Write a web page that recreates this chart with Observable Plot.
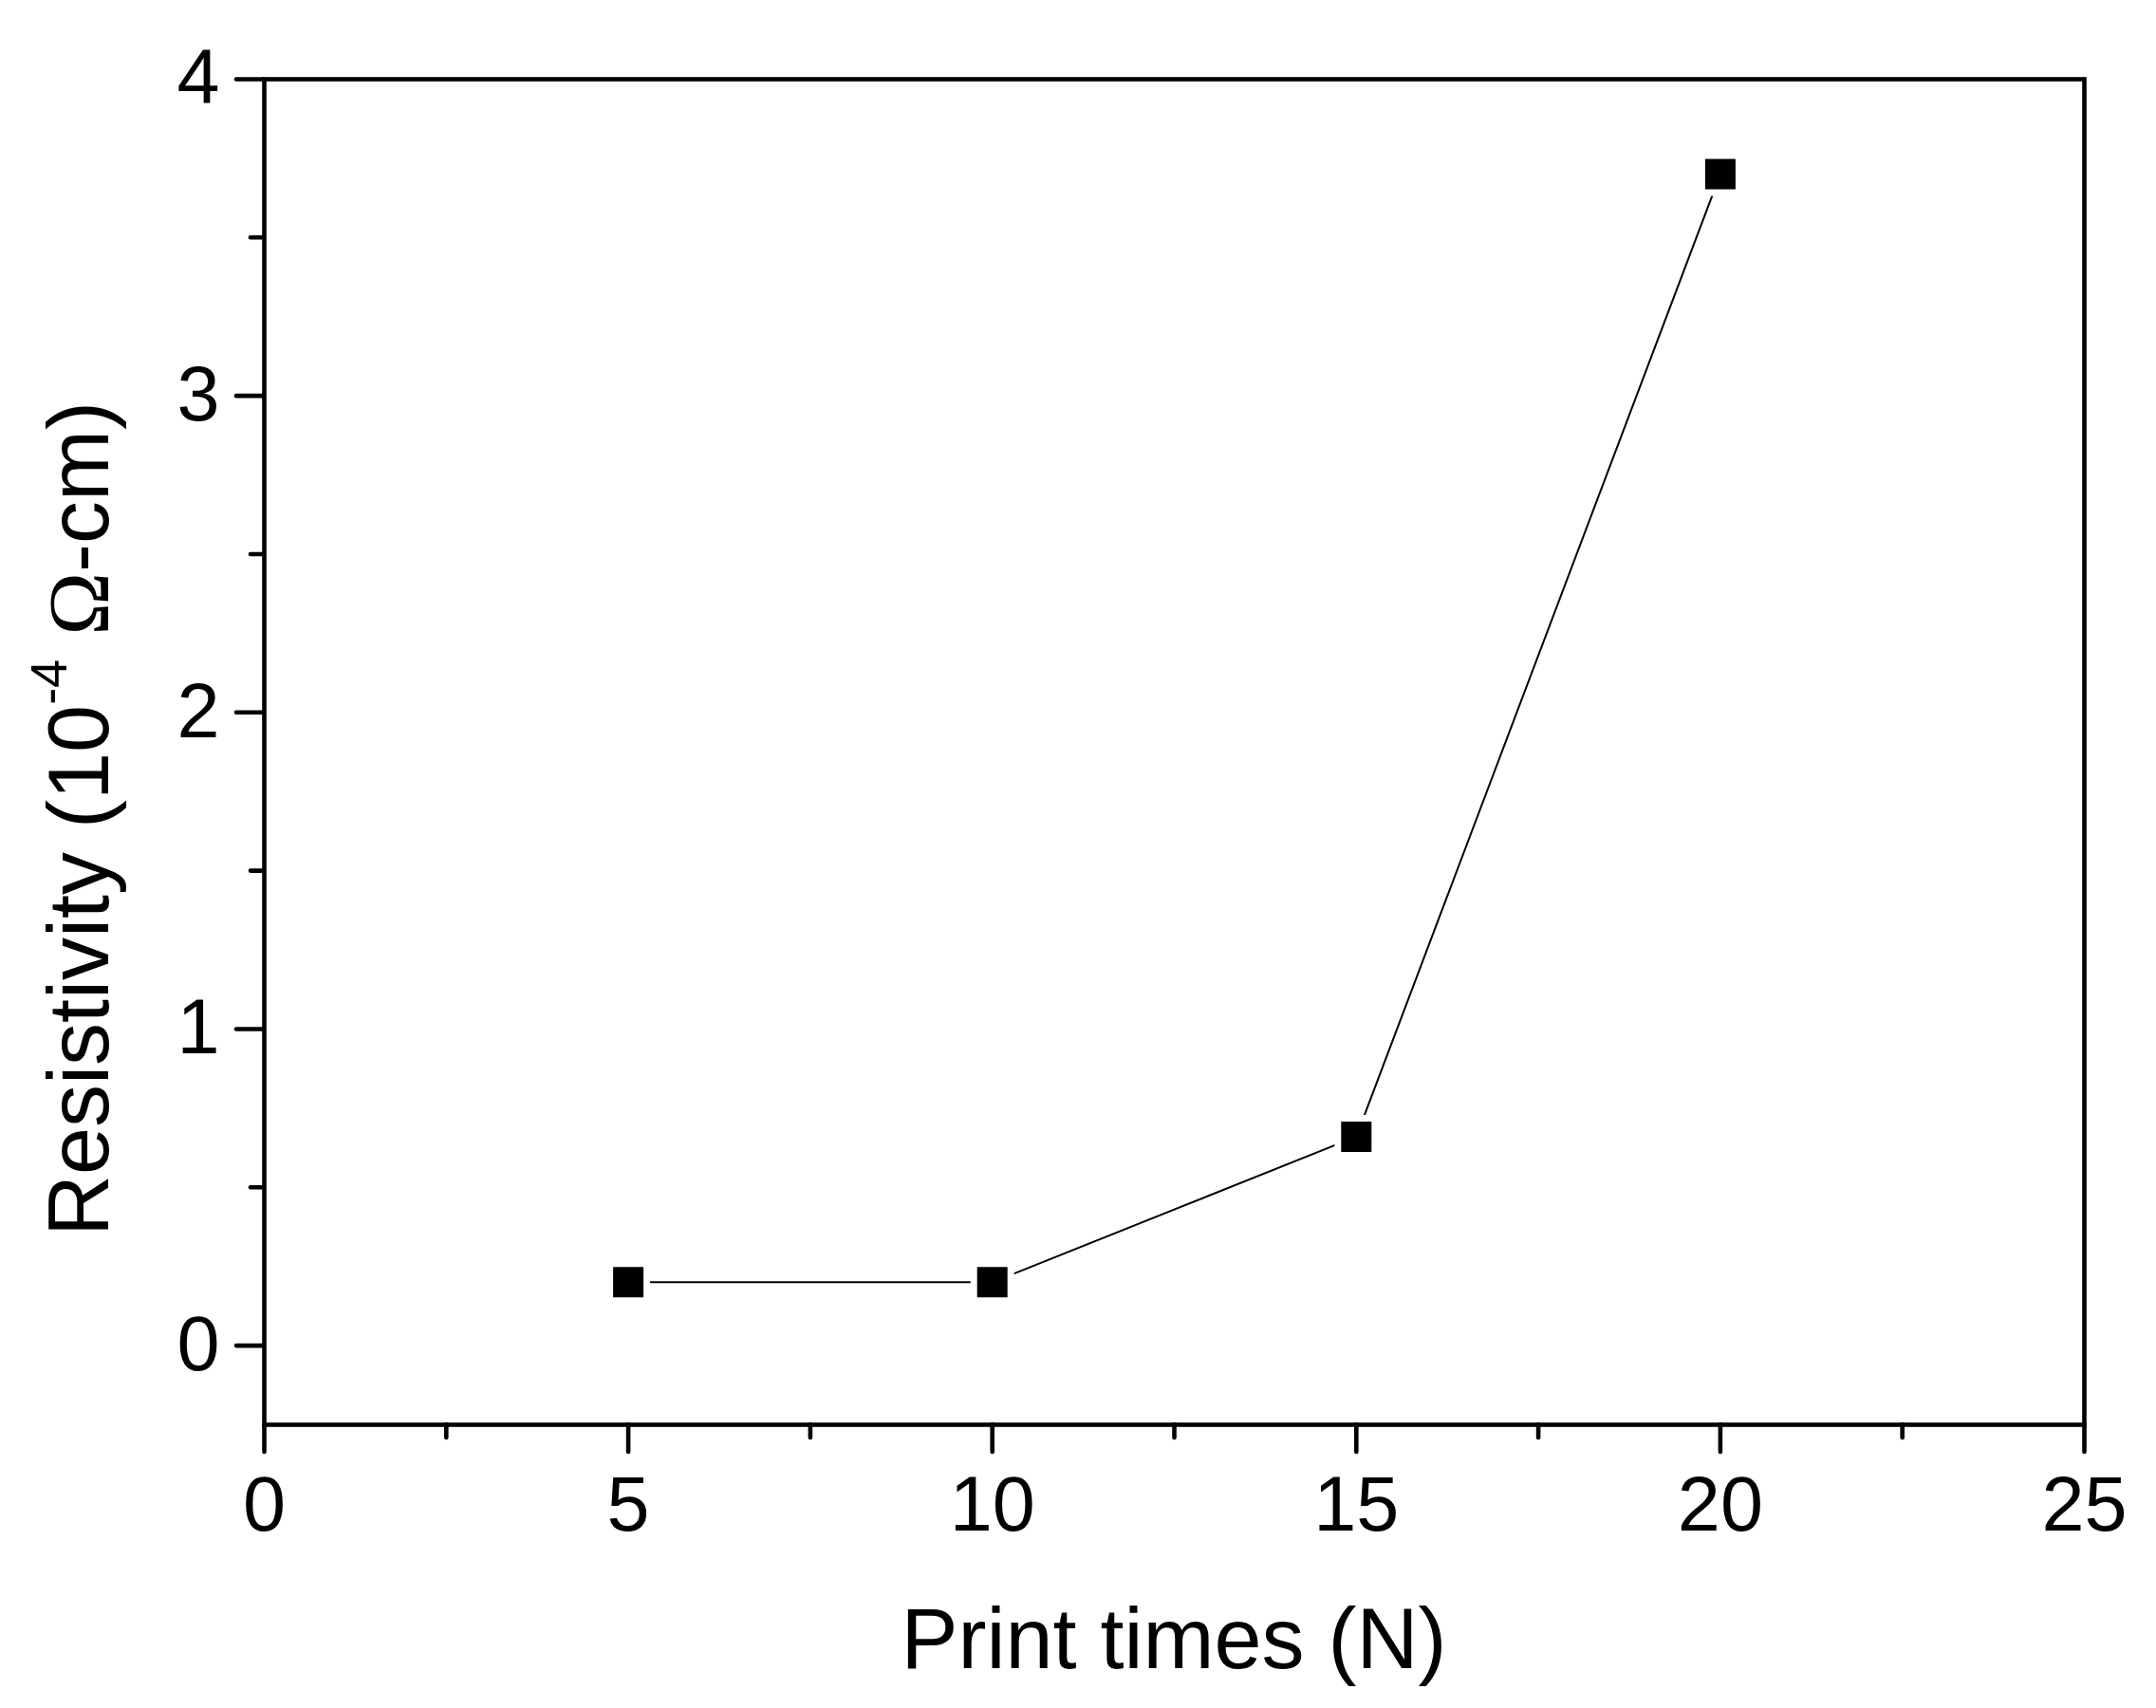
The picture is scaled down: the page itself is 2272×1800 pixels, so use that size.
<!DOCTYPE html>
<html><head><meta charset="utf-8">
<script src="https://cdn.jsdelivr.net/npm/d3@7"></script>
<script src="https://cdn.jsdelivr.net/npm/@observablehq/plot@0.6"></script>
<style>body{margin:0;background:#fff;} svg{display:block}</style>
</head><body><div id="chart"></div>
<script>
const printTimes = [5, 10, 15, 20];
const resistivity = [0.20, 0.20, 0.66, 3.70];
const xMajorTicks = [0, 5, 10, 15, 20, 25];
const xMinorTicks = [2.5, 7.5, 12.5, 17.5, 22.5];
const yMajorTicks = [0, 1, 2, 3, 4];
const yMinorTicks = [0.5, 1.5, 2.5, 3.5];
const xTitle = "Print times (N)";
const yTitleMain = "Resistivity (10";
const yTitleSup = "-4";
const yTitleOmega = "Ω";
const yTitleEnd = "-cm)";

const data = printTimes.map((x, i) => ({x, y: resistivity[i]}));
const font = "'Liberation Sans', Arial, sans-serif";
const axisW = 4.6;

const plot = Plot.plot({
  width: 2272, height: 1800,
  marginLeft: 278, marginRight: 76, marginTop: 83, marginBottom: 299,
  style: {fontFamily: font, background: "white", color: "black"},
  x: {domain: [0, 25]},
  y: {domain: [-0.25, 4]},
  marks: [
    Plot.line(data, {x: "x", y: "y", stroke: "black", strokeWidth: 2}),
    Plot.dot(data, {x: "x", y: "y", symbol: "square", r: 25.95, fill: "white", stroke: "none"}),
    Plot.dot(data, {x: "x", y: "y", symbol: "square", r: 18.05, fill: "black", stroke: "none"}),
    Plot.axisX({ticks: xMinorTicks, tickSize: 14, strokeWidth: axisW, strokeLinecap: "round", tickFormat: () => "", label: null}),
    Plot.axisX({ticks: xMajorTicks, tickSize: 29, tickPadding: 25, strokeWidth: axisW, strokeLinecap: "round", fontSize: 81, label: null, tickFormat: d => String(d)}),
    Plot.axisY({ticks: yMinorTicks, tickSize: 14, strokeWidth: axisW, strokeLinecap: "round", tickFormat: () => "", label: null}),
    Plot.axisY({ticks: yMajorTicks, tickSize: 29, tickPadding: 18, strokeWidth: axisW, strokeLinecap: "round", fontSize: 81, label: null, tickFormat: d => String(d)}),
    Plot.frame({stroke: "black", strokeWidth: axisW})
  ]
});

const svg = d3.select(plot);
// make sure axis ticks and frame have the heavy stroke
svg.selectAll('g[aria-label="x-axis tick"], g[aria-label="y-axis tick"]')
  .attr("stroke-width", axisW).attr("stroke", "black");
svg.selectAll('g[aria-label="x-axis tick"] path, g[aria-label="y-axis tick"] path')
  .attr("stroke-width", axisW).attr("stroke-linecap", "round");
svg.selectAll('[aria-label="frame"]').attr("stroke-width", axisW).attr("stroke", "black");

const xs = plot.scale("x");
const cx = (xs.range[0] + xs.range[1]) / 2;

svg.append("text")
  .attr("x", cx).attr("y", 1758)
  .attr("text-anchor", "middle")
  .attr("font-family", font).attr("font-size", 90).attr("fill", "black")
  .text(xTitle);

const yt = svg.append("text")
  .attr("transform", "translate(114,863) rotate(-90)")
  .attr("text-anchor", "middle")
  .attr("font-family", font).attr("font-size", 90).attr("fill", "black");
yt.append("tspan").text(yTitleMain);
yt.append("tspan").attr("font-size", 54).attr("dy", -44).text(yTitleSup);
yt.append("tspan").attr("dy", 44).text(" ");
yt.append("tspan").attr("font-family", "'Liberation Serif', 'Times New Roman', serif").text(yTitleOmega);
yt.append("tspan").text(yTitleEnd);

document.getElementById("chart").appendChild(plot);
</script>
</body></html>
